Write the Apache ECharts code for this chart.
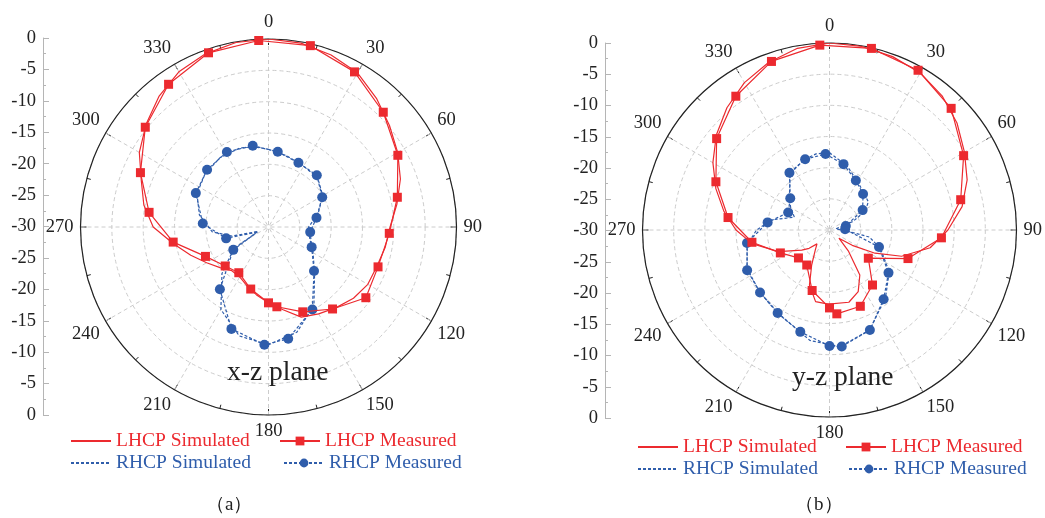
<!DOCTYPE html>
<html>
<head>
<meta charset="utf-8">
<script src="https://cdn.jsdelivr.net/npm/echarts@6.0.0/dist/echarts.min.js"></script>
<style>
html,body{margin:0;padding:0;background:#fff;}
#c{width:1045px;height:518px;}
</style>
</head>
<body>
<div id="c"></div>
<script>
// ---------------- DATA ([angle deg, gain dB], optional 3rd = 0 -> no marker) ----------------
const seriesNames = ['LHCP Simulated', 'LHCP Measured', 'RHCP Simulated', 'RHCP Measured'];
const planeLabels = ['x-z plane', 'y-z plane'];
const captions = ['（a）', '（b）'];

// x-z plane
const xzLhcpSim = [[0,0],[10,-0.2],[20,-0.8],[30,-1.6],[40,-3.2],[50,-4.8],[60,-6.2],[70,-7.6],[80,-9.2],[90,-10.6],
  [100,-11.1],[110,-11.6],[120,-11.7],[130,-12.3],[140,-13.2],[150,-14.0],[160,-14.7],[170,-16.6],[180,-17.9],
  [190,-19.0],[200,-20.0],[210,-20.8],[220,-20.9],[230,-19.9],[240,-18.6],[250,-16.8],[260,-14.6],[270,-11.6],
  [280,-9.8],[290,-8.4],[300,-6.2],[310,-4.5],[320,-2.8],[330,-1.4],[340,-0.6],[350,-0.1]];
const xzLhcpMeas = [[357,-0.2],[13,-0.3],[29,-1.7],[45,-4.1],[61,-6.4],[77,-8.9],[93,-10.7],[110,-11.4],[126,-10.8],
  [142,-13.4],[158,-15.4],[174,-17.2],[180,-17.9],[196,-19.7],[213,-21.3],[228,-20.7],[245,-18.9],[261,-14.6],
  [277,-10.8],[293,-7.8],[309,-4.7],[325,-2.2],[341,-0.6]];
const xzRhcpSim = [[0,-17.6],[15,-18.3],[30,-18.8],[45,-18.9],[60,-20.0],[75,-21.8],[90,-23.6],[105,-23.2],[120,-21.8],
  [135,-19.6],[150,-15.5],[165,-12.6],[180,-11.2],[195,-12.0],[210,-14.8],[225,-19.5],[238,-23.5],[247,-28.2],
  [256,-24.0],[265,-21.0],[280,-18.8],[295,-17.4],[310,-16.8],[325,-16.5],[340,-16.6],[350,-17.0]];
const xzRhcpMeas = [[349,-16.8],[7,-17.9],[25,-18.7],[43,-18.7],[61,-20.2],[79,-22.2],[97,-23.3],[115,-22.4],[134,-19.9],
  [152,-15.1],[170,-11.9],[182,-11.2],[200,-12.7],[218,-17.4],[237,-23.3],[246,-28.0,0],[255,-23.0],[273,-19.5],
  [295,-17.2],[313,-16.6],[331,-16.3]];

// y-z plane
const yzLhcpSim = [[0,0],[10,-0.1],[20,-0.4],[30,-0.9],[40,-1.9],[50,-3.3],[60,-5.0],[70,-6.5],[80,-8.4],[90,-11.0],
  [100,-13.6],[110,-17.7],[117,-21.8],[124,-25.6],[131,-28.0],[138,-25.5],[146,-21.3],[155,-19.1],[165,-18.0],
  [181,-18.1],[191,-18.3],[200,-20.6],[207,-23.7],[215,-26.0],[222,-27.0],[228,-25.6],[234,-24.5],[247,-21.1],
  [260,-17.4],[270,-15.0],[280,-12.8],[290,-10.6],[300,-8.4],[310,-6.3],[320,-4.4],[330,-2.7],[340,-1.4],[350,-0.4]];
const yzLhcpMeas = [[357,-0.3],[13,-0.1],[29,-0.7],[45,-2.4],[61,-5.4],[77,-8.4],[94,-12.0],[110,-16.6],[126,-22.3],
  [142,-18.8],[158,-16.8],[175,-16.5],[180,-17.5],[196,-19.9],[213,-23.3],[228,-23.3],[245,-21.3],[261,-17.4],
  [277,-13.6],[293,-10.2],[309,-6.7],[325,-3.8],[341,-1.4]];
const yzRhcpSim = [[0,-17.6],[15,-19.3],[30,-21.0],[45,-22.0],[54,-22.3],[62,-23.5],[70,-26.0],[80,-29.0],[92,-27.5],
  [100,-23.5],[110,-21.3],[125,-18.3],[140,-16.0],[158,-12.7],[175,-11.2],[190,-12.0],[210,-14.2],[228,-15.0],
  [245,-15.4],[260,-16.6],[270,-18.3],[280,-20.6],[290,-24.0],[300,-22.8],[310,-21.6],[325,-19.0],[340,-18.0],[350,-17.6]];
const yzRhcpMeas = [[357,-17.8],[12,-19.2],[28,-21.0],[43,-22.1],[59,-23.8],[76,-27.3],[87,-27.5],[109,-21.6],[126,-18.3],
  [142,-15.9],[158,-12.7],[174,-11.2],[180,-11.4],[196,-13.0],[212,-14.3],[228,-15.0],[244,-15.3],[261,-16.6],
  [277,-20.0],[293,-22.8],[309,-21.9],[325,-18.8],[341,-18.0]];

const angleTicks = [0, 30, 60, 90, 120, 150, 180, 210, 240, 270, 300, 330];
const radialMin = -30, radialMax = 0, radialStep = 5;

// ---------------- STYLE ----------------
const RED = '#ec2a2f', BLUE = '#2f5dab';
const SERIF = '"Liberation Serif","Times New Roman",serif';
const GRID = '#cccccc';

function closeLoop(arr) {
  const pts = arr.map(p => {
    const item = { value: [p[1], p[0]] };
    if (p.length > 2 && p[2] === 0) item.symbol = 'none';
    return item;
  });
  pts.push({ value: [arr[0][1], arr[0][0]], symbol: 'none' });
  return pts;
}

function mkSeries(name, polarIndex, arr) {
  const isRed = name.startsWith('LHCP');
  const isMeas = name.endsWith('Measured');
  const color = isRed ? RED : BLUE;
  return {
    name, type: 'line', coordinateSystem: 'polar', polarIndex,
    data: closeLoop(arr),
    smooth: false,
    symbol: isMeas ? (isRed ? 'rect' : 'circle') : 'none',
    symbolSize: isMeas ? (isRed ? 9 : 10) : 0,
    showSymbol: isMeas,
    itemStyle: { color },
    lineStyle: { color, width: 1.2, type: isRed ? 'solid' : [3, 2] },
    z: isRed ? 3 : 2,
    animation: false
  };
}

const polarCfg = [
  { center: [268.5, 227], radius: 188 },
  { center: [829.5, 230], radius: 187 }
];

function angleAxis(i) {
  return {
    polarIndex: i, type: 'value', min: 0, max: 360, interval: 30,
    startAngle: 90, clockwise: true,
    axisLine: { lineStyle: { color: '#222', width: 1.2 } },
    axisTick: { show: true, inside: true, length: 6, lineStyle: { color: '#222' } },
    minorTick: { show: true, splitNumber: 2, length: 4, lineStyle: { color: '#222' } },
    axisLabel: { margin: 7, fontSize: 18.5, fontFamily: SERIF, color: '#222',
      formatter: v => (angleTicks.indexOf(v) >= 0 ? String(v) : '') },
    splitLine: { show: true, lineStyle: { color: GRID, type: [4, 3], width: 1 } }
  };
}
function radiusAxis(i) {
  return {
    polarIndex: i, type: 'value', min: radialMin, max: radialMax, interval: radialStep,
    axisLine: { show: false }, axisTick: { show: false }, axisLabel: { show: false },
    splitLine: { show: true, lineStyle: { color: GRID, type: [4, 3], width: 1 } }
  };
}

const grids = [
  { left: 43, top: 38, width: 1, height: 377 },
  { left: 605, top: 43, width: 1, height: 375 }
];
function yAxis(i) {
  return {
    gridIndex: i, type: 'value', min: radialMin, max: -radialMin, interval: radialStep,
    axisLine: { show: true, lineStyle: { color: '#b5b5b5' } },
    axisTick: { show: true, inside: true, length: 6, lineStyle: { color: '#b5b5b5' } },
    minorTick: { show: true, splitNumber: 2, length: 3, lineStyle: { color: '#b5b5b5' } },
    splitLine: { show: false },
    axisLabel: { margin: 7, fontSize: 18.5, fontFamily: SERIF, color: '#222',
      formatter: v => String(Math.abs(v) + radialMin) }
  };
}

const legendPos = [
  // [name, left, centerY, color]
  ['LHCP Simulated', 70, 441, RED], ['LHCP Measured', 279, 441, RED],
  ['RHCP Simulated', 70, 463, BLUE], ['RHCP Measured', 283, 463, BLUE],
  ['LHCP Simulated', 637, 447, RED], ['LHCP Measured', 845, 447, RED],
  ['RHCP Simulated', 637, 469, BLUE], ['RHCP Measured', 848, 469, BLUE]
];
const legends = legendPos.map(l => ({
  data: [l[0]], left: l[1], top: l[2] - 10, padding: 0, itemWidth: 40, itemHeight: 11,
  selectedMode: false,
  itemStyle: l[0].endsWith('Simulated') ? { opacity: 0 } : {},
  textStyle: { color: l[3], fontSize: 19.5, fontFamily: SERIF, lineHeight: 20 }
}));

const titles = [
  { text: planeLabels[0], left: 227, top: 359 },
  { text: planeLabels[1], left: 792, top: 364 },
  { text: captions[0], left: 206, top: 496, small: true },
  { text: captions[1], left: 795, top: 496, small: true }
].map(t => ({
  text: t.text, left: t.left, top: t.top, padding: 0,
  textStyle: { fontFamily: SERIF, fontWeight: 'normal', color: '#222', fontSize: t.small ? 19 : 27.5 }
}));

const option = {
  backgroundColor: '#fff',
  animation: false,
  title: titles,
  legend: legends,
  polar: polarCfg,
  angleAxis: [angleAxis(0), angleAxis(1)],
  radiusAxis: [radiusAxis(0), radiusAxis(1)],
  grid: grids,
  xAxis: [{ gridIndex: 0, show: false, type: 'value' }, { gridIndex: 1, show: false, type: 'value' }],
  yAxis: [yAxis(0), yAxis(1)],
  series: [
    mkSeries(seriesNames[2], 0, xzRhcpSim),
    mkSeries(seriesNames[3], 0, xzRhcpMeas),
    mkSeries(seriesNames[0], 0, xzLhcpSim),
    mkSeries(seriesNames[1], 0, xzLhcpMeas),
    mkSeries(seriesNames[2], 1, yzRhcpSim),
    mkSeries(seriesNames[3], 1, yzRhcpMeas),
    mkSeries(seriesNames[0], 1, yzLhcpSim),
    mkSeries(seriesNames[1], 1, yzLhcpMeas)
  ]
};
const chart = echarts.init(document.getElementById('c'), null, { renderer: 'canvas' });
chart.setOption(option);
</script>
</body>
</html>
